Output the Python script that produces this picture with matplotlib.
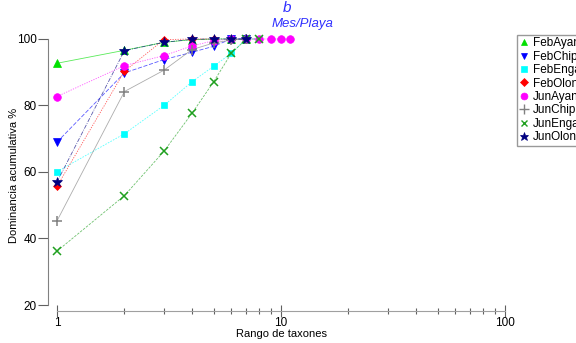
import matplotlib.pyplot as plt
from matplotlib.lines import Line2D
from matplotlib.ticker import LogLocator, NullFormatter, FixedLocator

plt.rcParams["font.family"] = ["Liberation Sans", "DejaVu Sans"]

labels = ["FebAyangue", "FebChipipe", "FebEngabao", "FebOlon",
          "JunAyangue", "JunChipipe", "JunEngabao", "JunOlon"]

feb_ayan = [92.7, 96.6, 99.0, 99.8, 100, 100, 100]
feb_chipi = [69.0, 89.8, 93.8, 96.0, 97.8, 100, 100]
feb_enga = [60.1, 71.5, 80.0, 87.1, 91.8, 95.7, 100, 100]
feb_olon = [55.7, 90.3, 99.8, 100, 100]
jun_ayan = [82.7, 92.0, 95.0, 97.9, 99.5, 100, 100, 100, 100, 100, 100]
jun_chipi = [45.3, 84.2, 90.6, 96.8, 98.8, 99.7, 100]
jun_enga = [36.2, 52.9, 66.2, 77.6, 87.1, 95.7, 100, 100]
jun_olon = [57.0, 96.5, 99.0, 99.9, 100, 100, 100]

series = [feb_ayan, feb_chipi, feb_enga, feb_olon,
          jun_ayan, jun_chipi, jun_enga, jun_olon]
colors = ["#00e000", "#0000ff", "#00ffff", "#ff0000",
          "#ff00ff", "#808080", "#20a020", "#000080"]
markers = ["^", "v", "s", "D", "o", "+", "x", "*"]
sizes = [5.5, 5.5, 5, 4.5, 5.5, 7.5, 5.5, 7]
lstyles = ["-", (0, (5, 2)), (0, (2, 1.5)), (0, (1.5, 1.5)),
           (0, (1.5, 1.5)), "-", (0, (3, 1.5)), (0, (5, 1.5, 1, 1.5))]

fig = plt.figure(figsize=(5.76, 3.43), dpi=100)
ax = fig.add_axes([48/576, 32/343, (510-48)/576, (311-33)/343])

for vals, c, m, ms, ls in zip(series, colors, markers, sizes, lstyles):
    ranks = list(range(1, len(vals) + 1))
    ax.plot(ranks, vals, color=c, linestyle=ls, linewidth=0.6, alpha=0.65)
    ax.plot(ranks, vals, color=c, linestyle="none", marker=m, markersize=ms,
            markeredgewidth=1.1 if m in "+x" else 0.5, clip_on=False)

ax.set_xscale("log")
ax.set_xlim(10 ** (-9/224), 10 ** (453/224))
ax.set_ylim(100 - 272/3.325, 100 + 6/3.325)

for s in ["top", "right"]:
    ax.spines[s].set_visible(False)
ax.spines["left"].set_bounds(20, 100)
ax.spines["bottom"].set_bounds(1, 100)
ax.spines["left"].set_color("#808080")
ax.spines["bottom"].set_color("#a0a0a0")

ax.yaxis.set_major_locator(FixedLocator([20, 40, 60, 80, 100]))
ax.xaxis.set_major_locator(FixedLocator([1, 10, 100]))
ax.xaxis.set_major_formatter(plt.FixedFormatter(["1", "10", "100"]))
ax.xaxis.set_minor_locator(LogLocator(base=10, subs=range(2, 10)))
ax.xaxis.set_minor_formatter(NullFormatter())
ax.tick_params(axis="y", direction="out", length=7, width=0.8, color="#606060",
               labelsize=8.5, pad=1)
ax.tick_params(axis="x", which="major", direction="inout", length=8, width=0.8,
               color="#606060", labelsize=8.5, pad=0)
ax.tick_params(axis="x", which="minor", direction="inout", length=4, width=0.8,
               color="#606060")

ax.set_xlabel("Rango de taxones", fontsize=8)
ax.set_ylabel("Dominancia acumulativa %", fontsize=8)
ax.xaxis.set_label_coords((281 - 48) / 462, -(329 - 311) / 278)
ax.yaxis.set_label_coords(-(48 - 19) / 462, (311 - 175) / 278)

fig.text(287/576, 1 - 8/343, "b", color="#3030ff", fontsize=11,
         style="italic", ha="center", va="center")
fig.text(303/576, 1 - 24/343, "Mes/Playa", color="#3030ff", fontsize=9.5,
         style="italic", ha="center", va="center")

handles = [Line2D([], [], color=c, marker=m, linestyle="none", markersize=ms * 0.9,
                  markeredgewidth=1.0 if m in "+x" else 0.5)
           for c, m, ms in zip(colors, markers, sizes)]
fig.legend(handles, labels, loc="upper left", bbox_to_anchor=(517/576, 1 - 35/343),
           fontsize=8.5, frameon=True, fancybox=False, edgecolor="#808080",
           handlelength=0.8, handletextpad=0.35, borderpad=0.2, labelspacing=0.12,
           borderaxespad=0)

fig.savefig("out.png", dpi=100)
